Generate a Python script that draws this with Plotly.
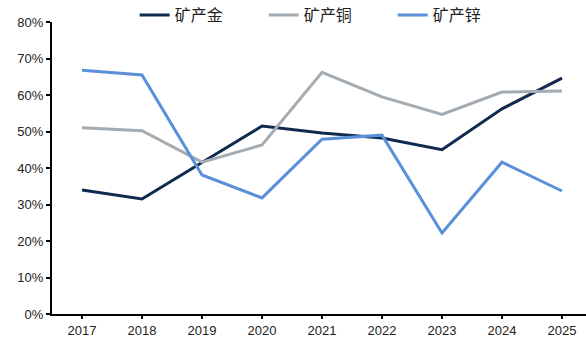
import plotly.graph_objects as go

years = ["2017", "2018", "2019", "2020", "2021", "2022", "2023", "2024", "2025"]
gold = [34.0, 31.5, 41.5, 51.5, 49.6, 48.2, 45.0, 56.2, 64.6]
copper = [51.0, 50.2, 41.6, 46.3, 66.2, 59.5, 54.7, 60.8, 61.1]
zinc = [66.8, 65.5, 38.1, 31.8, 47.9, 49.0, 22.2, 41.6, 33.7]

series = [
    ("矿产金", gold, "#0f2a4e"),
    ("矿产铜", copper, "#a3abb3"),
    ("矿产锌", zinc, "#5b8fd9"),
]

fig = go.Figure()
for name, vals, color in series:
    fig.add_trace(go.Scatter(
        x=list(range(len(years))), y=vals, name=name, mode="lines",
        line=dict(color=color, width=3),
    ))

fig.update_layout(
    width=586, height=338,
    margin=dict(l=52, r=0, t=22, b=24, autoexpand=False),
    paper_bgcolor="white", plot_bgcolor="white",
    font=dict(family="Liberation Sans, Arial, sans-serif", size=13, color="#222"),
    showlegend=True,
    legend=dict(
        orientation="h", xref="container", yref="container",
        x=0.56, xanchor="center", y=0.955, yanchor="middle",
        font=dict(family="Noto Sans CJK SC", size=16, color="#222"),
        entrywidth=84, entrywidthmode="pixels",
        bgcolor="rgba(0,0,0,0)",
    ),
    xaxis=dict(
        tickmode="array", tickvals=list(range(len(years))), ticktext=years,
        range=[-0.5, 8.4], showgrid=False, zeroline=False,
        showline=True, linecolor="black", linewidth=2,
        ticks="outside", ticklen=3, tickwidth=1.5, tickcolor="black",
        tickson="boundaries", automargin=False,
    ),
    yaxis=dict(
        range=[0, 80], dtick=10, ticksuffix="%", showgrid=False, zeroline=False,
        showline=True, linecolor="black", linewidth=2,
        ticks="outside", ticklen=4, tickwidth=1.5, tickcolor="black",
        automargin=False,
    ),
)

fig.write_html("out.html")
